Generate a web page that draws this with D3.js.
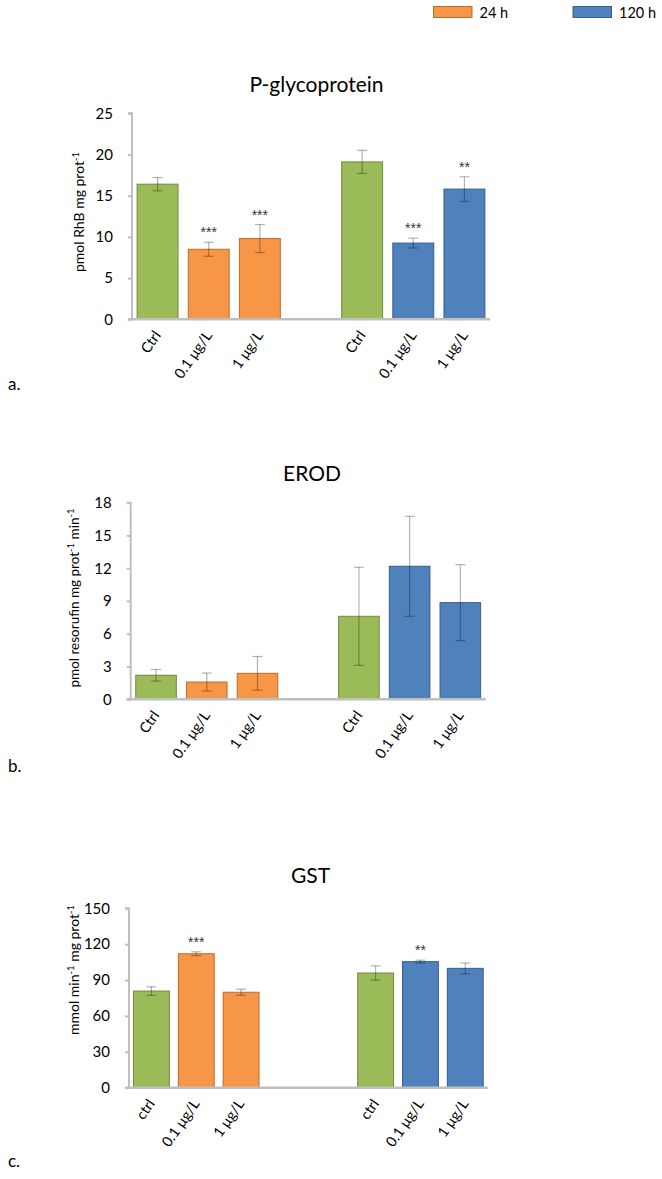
<!DOCTYPE html>
<html>
<head>
<meta charset="utf-8">
<script src="https://cdn.jsdelivr.net/npm/d3@7"></script>
<style>
  html, body { margin: 0; padding: 0; background: #fff; }
  svg { display: block; font-family: Lato, "Open Sans", sans-serif; }
</style>
</head>
<body>
<svg id="chart" width="662" height="1179"></svg>
<script>
// Treatment groups within each exposure time
const doseLabels = ["Ctrl", "0.1 μg/L", "1 μg/L"];
const doseLabelsLower = ["ctrl", "0.1 μg/L", "1 μg/L"];
const exposureTimes = ["24 h", "120 h"];

// P-glycoprotein (pmol RhB mg prot-1): 24 h Ctrl, 0.1, 1 then 120 h Ctrl, 0.1, 1
const pgpMean = [16.4, 8.5, 9.8, 19.1, 9.25, 15.8];
const pgpErr  = [0.8, 0.85, 1.7, 1.4, 0.6, 1.5];
const pgpSig  = ["", "***", "***", "", "***", "**"];
const pgpTicks = [0, 5, 10, 15, 20, 25];

// EROD (pmol resorufin mg prot-1 min-1)
const erodMean = [2.2, 1.58, 2.38, 7.6, 12.18, 8.85];
const erodErr  = [0.53, 0.82, 1.54, 4.49, 4.58, 3.48];
const erodSig  = ["", "", "", "", "", ""];
const erodTicks = [0, 3, 6, 9, 12, 15, 18];

// GST (mmol min-1 mg prot-1)
const gstMean = [80.8, 112, 79.8, 95.9, 105.4, 99.8];
const gstErr  = [3.6, 1.6, 2.5, 6.0, 1.2, 4.5];
const gstSig  = ["", "***", "", "", "**", ""];
const gstTicks = [0, 30, 60, 90, 120, 150];

const colors = {
  ctrl: { fill: "#9bbb59", stroke: "#71893f" },
  "24 h": { fill: "#f79646", stroke: "#b66d31" },
  "120 h": { fill: "#4f81bd", stroke: "#385d8a" }
};

const svg = d3.select("#chart");

// Legend
const legend = svg.append("g");
exposureTimes.forEach((t, i) => {
  const lx = [433.5, 573][i];
  legend.append("rect")
    .attr("x", lx).attr("y", 6.5).attr("width", 38.5).attr("height", 11)
    .attr("fill", colors[t].fill).attr("stroke", colors[t].stroke).attr("stroke-width", 1);
  legend.append("text")
    .attr("x", lx + 46).attr("y", 17.5)
    .attr("font-size", 14.5).attr("fill", "#000")
    .text(t);
});

function drawPanel(cfg) {
  const g = svg.append("g");
  // slot keys: three doses at 24 h, empty slots, three doses at 120 h
  const slots = [];
  doseLabels.forEach((d, i) => slots.push("24 h|" + i));
  for (let k = 0; k < cfg.gapSlots; k++) slots.push("gap" + k);
  doseLabels.forEach((d, i) => slots.push("120 h|" + i));

  const x = d3.scaleBand().domain(slots).range([cfg.x0, cfg.x1])
    .paddingInner(0.2).paddingOuter(0.1);
  const y = d3.scaleLinear().domain([0, d3.max(cfg.ticks)]).range([cfg.yBase, cfg.yTop]);

  const rows = cfg.mean.map((m, i) => {
    const time = i < 3 ? "24 h" : "120 h";
    const dose = i % 3;
    return { key: time + "|" + dose, time, dose, mean: m, err: cfg.err[i], sig: cfg.sig[i] };
  });

  // Title
  g.append("text")
    .attr("x", cfg.titleX).attr("y", cfg.titleY)
    .attr("text-anchor", "middle").attr("font-size", 21).attr("fill", "#000")
    .text(cfg.title);

  // Y axis
  const yAxis = d3.axisLeft(y).tickValues(cfg.ticks).tickSize(4).tickPadding(15);
  const ya = g.append("g").attr("transform", `translate(${cfg.x0},0)`).call(yAxis);
  ya.select(".domain").attr("stroke", "#bfbfbf").attr("stroke-width", 2)
    .attr("d", `M-4,${cfg.yTop}H0V${cfg.yBase}`);
  ya.selectAll(".tick line").attr("stroke", "#bfbfbf").attr("stroke-width", 2);
  ya.selectAll(".tick text").attr("font-size", 15).attr("fill", "#000")
    .attr("font-family", "Lato, sans-serif");

  // Bars
  g.selectAll("rect.bar").data(rows).enter().append("rect")
    .attr("class", "bar")
    .attr("x", d => x(d.key))
    .attr("width", x.bandwidth())
    .attr("y", d => y(d.mean))
    .attr("height", d => y(0) - y(d.mean))
    .attr("fill", d => d.dose === 0 ? colors.ctrl.fill : colors[d.time].fill)
    .attr("stroke", d => d.dose === 0 ? colors.ctrl.stroke : colors[d.time].stroke)
    .attr("stroke-width", 1);

  // X axis baseline
  g.append("line")
    .attr("x1", cfg.x0 - 4).attr("x2", cfg.x1)
    .attr("y1", y(0)).attr("y2", y(0))
    .attr("stroke", "#bfbfbf").attr("stroke-width", 2.5);

  // Error bars
  const eb = g.selectAll("g.err").data(rows).enter().append("g").attr("class", "err")
    .attr("stroke", "rgba(0,0,0,0.3)").attr("stroke-width", 1.2);
  eb.append("line")
    .attr("x1", d => x(d.key) + x.bandwidth() / 2).attr("x2", d => x(d.key) + x.bandwidth() / 2)
    .attr("y1", d => y(d.mean + d.err)).attr("y2", d => y(d.mean - d.err));
  ["+", "-"].forEach(s => {
    eb.append("line")
      .attr("x1", d => x(d.key) + x.bandwidth() / 2 - 5)
      .attr("x2", d => x(d.key) + x.bandwidth() / 2 + 5)
      .attr("y1", d => y(s === "+" ? d.mean + d.err : d.mean - d.err))
      .attr("y2", d => y(s === "+" ? d.mean + d.err : d.mean - d.err));
  });

  // Significance marks
  g.selectAll("text.sig").data(rows.filter(d => d.sig)).enter().append("text")
    .attr("class", "sig")
    .attr("x", d => x(d.key) + x.bandwidth() / 2)
    .attr("y", d => y(d.mean + d.err) - 5)
    .attr("text-anchor", "middle").attr("font-size", 14)
    .attr("font-family", "'Liberation Sans', sans-serif").attr("fill", "#333")
    .text(d => d.sig);

  // Category labels, rotated
  g.selectAll("text.cat").data(rows).enter().append("text")
    .attr("class", "cat")
    .attr("transform", d => `translate(${x(d.key) + x.bandwidth() / 2 + 4},${y(0) + 16}) rotate(-55)`)
    .attr("text-anchor", "end").attr("font-size", 14.5).attr("fill", "#000")
    .text(d => cfg.labels[d.dose]);

  // Y axis title with superscripts
  const yt = g.append("text")
    .attr("transform", `translate(${cfg.yLabelX},${cfg.yLabelY}) rotate(-90)`)
    .attr("text-anchor", "middle").attr("font-size", cfg.yLabelSize).attr("fill", "#000");
  cfg.yLabel.forEach(part => {
    const ts = yt.append("tspan").text(part.t);
    if (part.sup) ts.attr("font-size", 9.5).attr("baseline-shift", "super");
  });

  // Panel letter
  svg.append("text")
    .attr("x", 8).attr("y", cfg.letterY)
    .attr("font-size", 17).attr("fill", "#000")
    .text(cfg.letter);
}

drawPanel({
  title: "P-glycoprotein", titleX: 316.5, titleY: 91.5,
  mean: pgpMean, err: pgpErr, sig: pgpSig, ticks: pgpTicks,
  labels: doseLabels, gapSlots: 1,
  x0: 132, x1: 490, yBase: 319.3, yTop: 113.3,
  yLabel: [{ t: "pmol RhB mg prot" }, { t: "-1", sup: true }],
  yLabelX: 84, yLabelY: 212, yLabelSize: 14,
  letter: "a.", letterY: 390
});

drawPanel({
  title: "EROD", titleX: 312, titleY: 481,
  mean: erodMean, err: erodErr, sig: erodSig, ticks: erodTicks,
  labels: doseLabels, gapSlots: 1,
  x0: 130.7, x1: 485.7, yBase: 699.3, yTop: 502.7,
  yLabel: [{ t: "pmol resorufin mg prot" }, { t: "-1", sup: true }, { t: " min" }, { t: "-1", sup: true }],
  yLabelX: 79, yLabelY: 598, yLabelSize: 13.5,
  letter: "b.", letterY: 772
});

drawPanel({
  title: "GST", titleX: 310.5, titleY: 883.3,
  mean: gstMean, err: gstErr, sig: gstSig, ticks: gstTicks,
  labels: doseLabelsLower, gapSlots: 2,
  x0: 129, x1: 487.7, yBase: 1087.7, yTop: 908.3,
  yLabel: [{ t: "mmol min" }, { t: "-1", sup: true }, { t: " mg prot" }, { t: "-1", sup: true }],
  yLabelX: 79, yLabelY: 970, yLabelSize: 14,
  letter: "c.", letterY: 1167
});
</script>
</body>
</html>
